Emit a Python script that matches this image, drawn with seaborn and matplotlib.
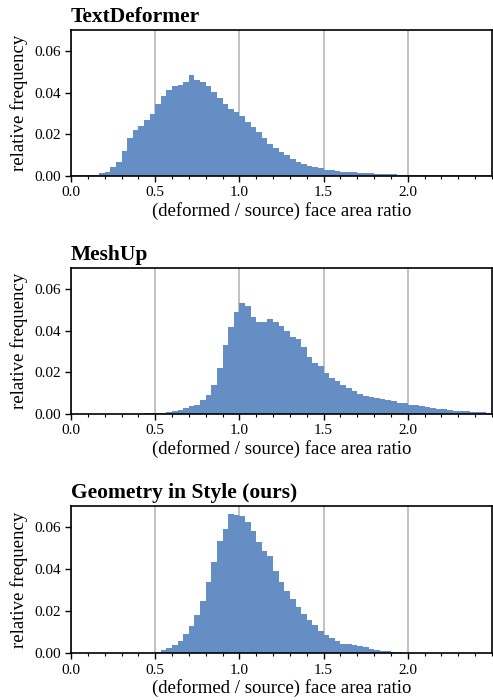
import numpy as np
import pandas as pd
import matplotlib
matplotlib.use("Agg")
import matplotlib.pyplot as plt
from matplotlib.ticker import MultipleLocator
import seaborn as sns

# ---------------- data ----------------
bin_edges = [round(i / 30, 6) for i in range(76)]  # 75 bins of width 1/30

titles = ["TextDeformer", "MeshUp", "Geometry in Style (ours)"]

textdeformer = [
    0.0001, 0.0002, 0.0003, 0.0004, 0.0005, 0.0013, 0.0020, 0.0040, 0.0067, 0.0118,
    0.0180, 0.0218, 0.0240, 0.0267, 0.0296, 0.0347, 0.0384, 0.0413, 0.0430, 0.0435,
    0.0450, 0.0482, 0.0462, 0.0450, 0.0429, 0.0403, 0.0373, 0.0346, 0.0320, 0.0307,
    0.0285, 0.0256, 0.0233, 0.0210, 0.0180, 0.0151, 0.0133, 0.0115, 0.0099, 0.0080,
    0.0064, 0.0056, 0.0046, 0.0040, 0.0035, 0.0029, 0.0026, 0.0022, 0.0019, 0.0018,
    0.0016, 0.0014, 0.0013, 0.0011, 0.0010, 0.0008, 0.0006, 0.0006, 0.0005, 0.0005,
    0.0004, 0.0004, 0.0003, 0.0003, 0.0003, 0.0002, 0.0002, 0.0002, 0.0002, 0.0001,
    0.0001, 0.0001, 0.0001, 0.0001, 0.0001,
]

meshup = [
    0.0, 0.0, 0.0, 0.0, 0.0, 0.0, 0.0, 0.0, 0.0, 0.0,
    0.0, 0.0, 0.0, 0.0001, 0.0002, 0.0003, 0.0005, 0.0008, 0.0011, 0.0016,
    0.0026, 0.0035, 0.0043, 0.0064, 0.0091, 0.0136, 0.0220, 0.0331, 0.0416, 0.0490,
    0.0533, 0.0517, 0.0467, 0.0442, 0.0442, 0.0454, 0.0442, 0.0420, 0.0400, 0.0371,
    0.0357, 0.0320, 0.0274, 0.0246, 0.0230, 0.0198, 0.0171, 0.0157, 0.0136, 0.0122,
    0.0109, 0.0094, 0.0086, 0.0082, 0.0075, 0.0069, 0.0064, 0.0059, 0.0053, 0.0050,
    0.0043, 0.0040, 0.0037, 0.0032, 0.0027, 0.0024, 0.0021, 0.0018, 0.0014, 0.0013,
    0.0011, 0.0010, 0.0008, 0.0006, 0.0005,
]

geometry_in_style = [
    0.0, 0.0, 0.0, 0.0, 0.0, 0.0, 0.0, 0.0, 0.0, 0.0,
    0.0, 0.0, 0.0, 0.0, 0.0002, 0.0006, 0.0013, 0.0024, 0.0038, 0.0060,
    0.0092, 0.0129, 0.0180, 0.0250, 0.0339, 0.0434, 0.0534, 0.0593, 0.0663, 0.0660,
    0.0655, 0.0622, 0.0582, 0.0528, 0.0486, 0.0461, 0.0390, 0.0339, 0.0296, 0.0258,
    0.0220, 0.0188, 0.0159, 0.0132, 0.0105, 0.0087, 0.0073, 0.0060, 0.0045, 0.0041,
    0.0038, 0.0033, 0.0027, 0.0019, 0.0014, 0.0011, 0.0008, 0.0005, 0.0003, 0.0002,
    0.0001, 0.0001, 0.0001, 0.0001, 0.0001, 0.0, 0.0, 0.0, 0.0, 0.0,
    0.0, 0.0, 0.0, 0.0, 0.0,
]

x_ticks = [0.0, 0.5, 1.0, 1.5, 2.0]
x_ticklabels = ["0.0", "0.5", "1.0", "1.5", "2.0"]
y_ticks = [0.00, 0.02, 0.04, 0.06]
y_ticklabels = ["0.00", "0.02", "0.04", "0.06"]
xlabel = "(deformed / source) face area ratio"
ylabel = "relative frequency"

# ---------------- style ----------------
sns.set_style("ticks")
plt.rcParams["font.family"] = ["Liberation Serif", "DejaVu Serif"]
plt.rcParams["axes.edgecolor"] = "black"
plt.rcParams["axes.linewidth"] = 1.2
plt.rcParams["text.color"] = "black"
plt.rcParams["axes.labelcolor"] = "black"
plt.rcParams["xtick.color"] = "black"
plt.rcParams["ytick.color"] = "black"
plt.rcParams["xtick.labelcolor"] = "black"
plt.rcParams["ytick.labelcolor"] = "black"

bar_color = "#658fc4"

fig = plt.figure(figsize=(4.93, 7.0), dpi=100)
positions = [
    (0.144, 0.749, 0.854, 0.208),
    (0.144, 0.409, 0.854, 0.208),
    (0.144, 0.067, 0.854, 0.210),
]

for pos, title, vals in zip(positions, titles, [textdeformer, meshup, geometry_in_style]):
    ax = fig.add_axes(pos)
    centers = [(a + b) / 2 for a, b in zip(bin_edges[:-1], bin_edges[1:])]
    df = pd.DataFrame({"ratio": centers, "freq": vals})
    sns.histplot(data=df, x="ratio", weights="freq", bins=list(bin_edges),
                 color=bar_color, alpha=1.0, linewidth=0, ax=ax, zorder=2)
    ax.set_xlim(0.0, 2.5)
    ax.set_ylim(0.0, 0.07)
    ax.set_xticks(x_ticks)
    ax.set_xticklabels(x_ticklabels)
    ax.xaxis.set_minor_locator(MultipleLocator(0.1))
    ax.set_yticks(y_ticks)
    ax.set_yticklabels(y_ticklabels)
    ax.tick_params(axis="both", which="major", labelsize=11, length=4, width=1.0,
                   color="black", labelcolor="black", direction="out")
    ax.tick_params(axis="x", which="minor", length=2.5, width=0.8, color="black")
    ax.grid(axis="x", which="major", color="#bdbdbd", linewidth=1.3, zorder=0)
    ax.set_axisbelow(True)
    ax.set_xlabel(xlabel, fontsize=13.5, labelpad=2, color="black")
    ax.set_ylabel(ylabel, fontsize=13.5, labelpad=4, color="black")
    ax.set_title(title, loc="left", fontsize=15.5, fontweight="bold", pad=6,
                 color="black")
    for s in ax.spines.values():
        s.set_visible(True)
        s.set_color("black")

fig.savefig("out.png", dpi=100)
